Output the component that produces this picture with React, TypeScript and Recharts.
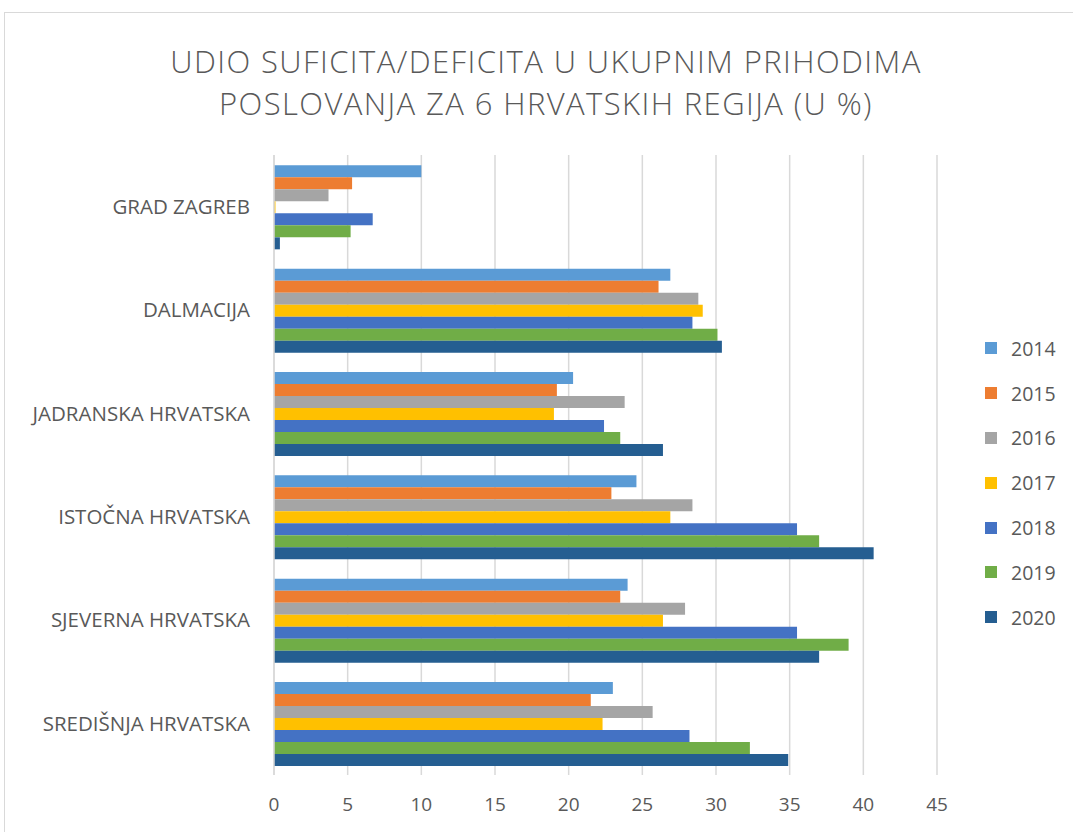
import { BarChart, Bar, XAxis, YAxis, CartesianGrid, Legend } from 'recharts';

const regions = [
  'GRAD ZAGREB',
  'DALMACIJA',
  'JADRANSKA HRVATSKA',
  'ISTOČNA HRVATSKA',
  'SJEVERNA HRVATSKA',
  'SREDIŠNJA HRVATSKA',
];

const years = ['2014', '2015', '2016', '2017', '2018', '2019', '2020'];

const y2014 = [10.0, 26.9, 20.3, 24.6, 24.0, 23.0];
const y2015 = [5.3, 26.1, 19.2, 22.9, 23.5, 21.5];
const y2016 = [3.7, 28.8, 23.8, 28.4, 27.9, 25.7];
const y2017 = [0.1, 29.1, 19.0, 26.9, 26.4, 22.3];
const y2018 = [6.7, 28.4, 22.4, 35.5, 35.5, 28.2];
const y2019 = [5.2, 30.1, 23.5, 37.0, 39.0, 32.3];
const y2020 = [0.4, 30.4, 26.4, 40.7, 37.0, 34.9];

const xTicks = [0, 5, 10, 15, 20, 25, 30, 35, 40, 45];

const colors = ['#5B9BD5', '#ED7D31', '#A5A5A5', '#FFC000', '#4472C4', '#70AD47', '#255E91'];

const series = [y2014, y2015, y2016, y2017, y2018, y2019, y2020];

const data = regions.map((name, i) => {
  const row: Record<string, string | number> = { name };
  years.forEach((yr, j) => {
    row[yr] = series[j][i];
  });
  return row;
});

const font = '"Open Sans", "Liberation Sans", sans-serif';

const LegendList = (props: any) => {
  const { payload } = props;
  return (
    <div style={{ fontFamily: font, fontSize: 19.5, color: '#595959' }}>
      {payload.map((entry: any) => (
        <div key={entry.value} style={{ display: 'flex', alignItems: 'center', height: 44.8 }}>
          <span style={{ display: 'inline-block', width: 12, height: 12, background: entry.color, marginRight: 14 }} />
          <span>{entry.value}</span>
        </div>
      ))}
    </div>
  );
};

const titleLine = {
  position: 'absolute' as const,
  left: 0,
  width: 1092,
  textAlign: 'center' as const,
  fontFamily: font,
  fontWeight: 300,
  fontSize: 31,
  lineHeight: '41px',
  letterSpacing: 1.4,
  color: '#595959',
  whiteSpace: 'nowrap' as const,
};

export default function App() {
  return (
    <div style={{ position: 'absolute', left: 0, top: 0, width: 1073, height: 832, background: '#fff', overflow: 'hidden' }}>
      <div
        style={{
          position: 'absolute',
          left: 4,
          top: 12,
          width: 1100,
          height: 860,
          border: '1px solid #d9d9d9',
        }}
      />
      <div style={{ ...titleLine, top: 41 }}>UDIO SUFICITA/DEFICITA U UKUPNIM PRIHODIMA</div>
      <div style={{ ...titleLine, top: 83 }}>POSLOVANJA ZA 6 HRVATSKIH REGIJA (U %)</div>
      <div style={{ position: 'absolute', left: 0, top: 0 }}>
        <BarChart
          width={1073}
          height={832}
          data={data}
          layout="vertical"
          margin={{ top: 155, right: 46, bottom: 27, left: 0 }}
          barCategoryGap="10%"
          barGap={0}
        >
          <CartesianGrid horizontal={false} stroke="#d9d9d9" strokeWidth={1.5} />
          <XAxis
            type="number"
            domain={[0, 45]}
            ticks={xTicks}
            interval={0}
            height={30}
            axisLine={false}
            tickLine={false}
            tickSize={0}
            tickMargin={23}
            tick={{ fill: '#595959', fontSize: 19, fontFamily: font }}
          />
          <YAxis
            type="category"
            dataKey="name"
            width={274}
            axisLine={{ stroke: '#d9d9d9', strokeWidth: 1.5 }}
            tickLine={false}
            tickSize={0}
            tickMargin={24}
            tick={{ fill: '#595959', fontSize: 20.5, fontFamily: font }}
          />
          <Legend
            layout="vertical"
            verticalAlign="top"
            align="right"
            content={<LegendList />}
            wrapperStyle={{ position: 'absolute', left: 985, top: 326, width: 90 }}
          />
          {years.map((yr, j) => (
            <Bar key={yr} dataKey={yr} fill={colors[j]} isAnimationActive={false} />
          ))}
        </BarChart>
      </div>
    </div>
  );
}
